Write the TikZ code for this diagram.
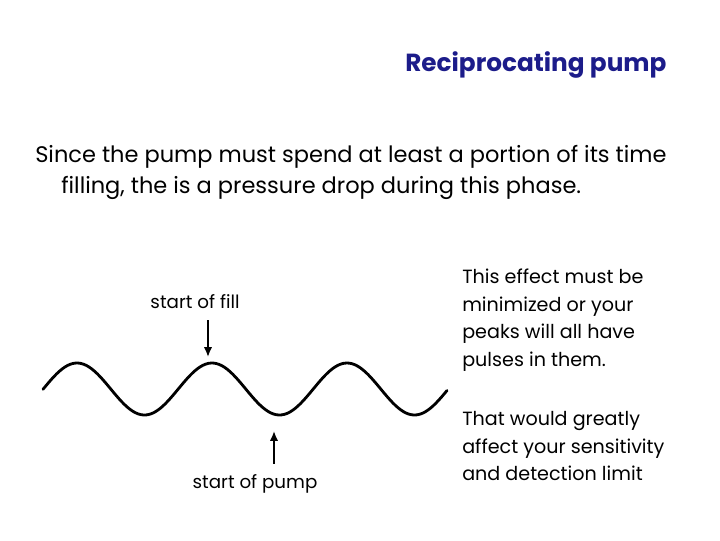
\documentclass[tikz,border=0pt]{standalone}
\usepackage{fontspec}
\setmainfont{Poppins}
\usetikzlibrary{arrows.meta,positioning}
\definecolor{titleblue}{RGB}{28,28,138}

\begin{document}
\begin{tikzpicture}[x=0.025cm,y=-0.025cm,
  txt/.style={anchor=base west,inner sep=0pt,text=black},
  lbl/.style={anchor=base,inner sep=0pt,font=\fontsize{13}{15}\selectfont},
  arr/.style={-{Latex[length=7pt,width=6pt]},line width=1.3pt},
  wave/.style={line width=2pt,line cap=round,line join=round}]
\useasboundingbox (0,0) rectangle (720,540);
\node[txt,text=titleblue,font=\bfseries\fontsize{17.6}{20}\selectfont] (title) at (405,71) {Reciprocating pump};
\node[txt,font=\fontsize{16}{19}\selectfont] (intro1) at (35,162) {Since the pump must spend at least a portion of its time};
\node[txt,font=\fontsize{16}{19}\selectfont] (intro2) at (61,193) {filling, the is a pressure drop during this phase.};
% the pressure trace
\draw[wave] plot[domain=43:447,samples=150,smooth] (\x,{389-26*cos(2.6667*(\x-77))});
\coordinate (fillpeak) at (208,357);
\coordinate (pumpdip) at (274,431);
\node[lbl] (fill) at (195,308) {start of fill};
\node[lbl] (pump) at (255,488) {start of pump};
\draw[arr] (fill.south -| fillpeak) ++(0,12) coordinate (filltail) -- (fillpeak);
\draw[arr] (pump.north -| pumpdip) ++(0,-10) coordinate (pumptail) -- (pumpdip);
% notes on the right
\node[txt,font=\fontsize{13.6}{16}\selectfont] (note1) at (462,283) {This effect must be};
\node[txt,font=\fontsize{13.6}{16}\selectfont] (note2) at (462,311) {minimized or your};
\node[txt,font=\fontsize{13.6}{16}\selectfont] (note3) at (462,338) {peaks will all have};
\node[txt,font=\fontsize{13.6}{16}\selectfont] (note4) at (462,366) {pulses in them.};
\node[txt,font=\fontsize{13.6}{16}\selectfont] (note5) at (462,425) {That would greatly};
\node[txt,font=\fontsize{13.6}{16}\selectfont] (note6) at (462,453) {affect your sensitivity};
\node[txt,font=\fontsize{13.6}{16}\selectfont] (note7) at (462,480) {and detection limit};
\end{tikzpicture}
\end{document}
